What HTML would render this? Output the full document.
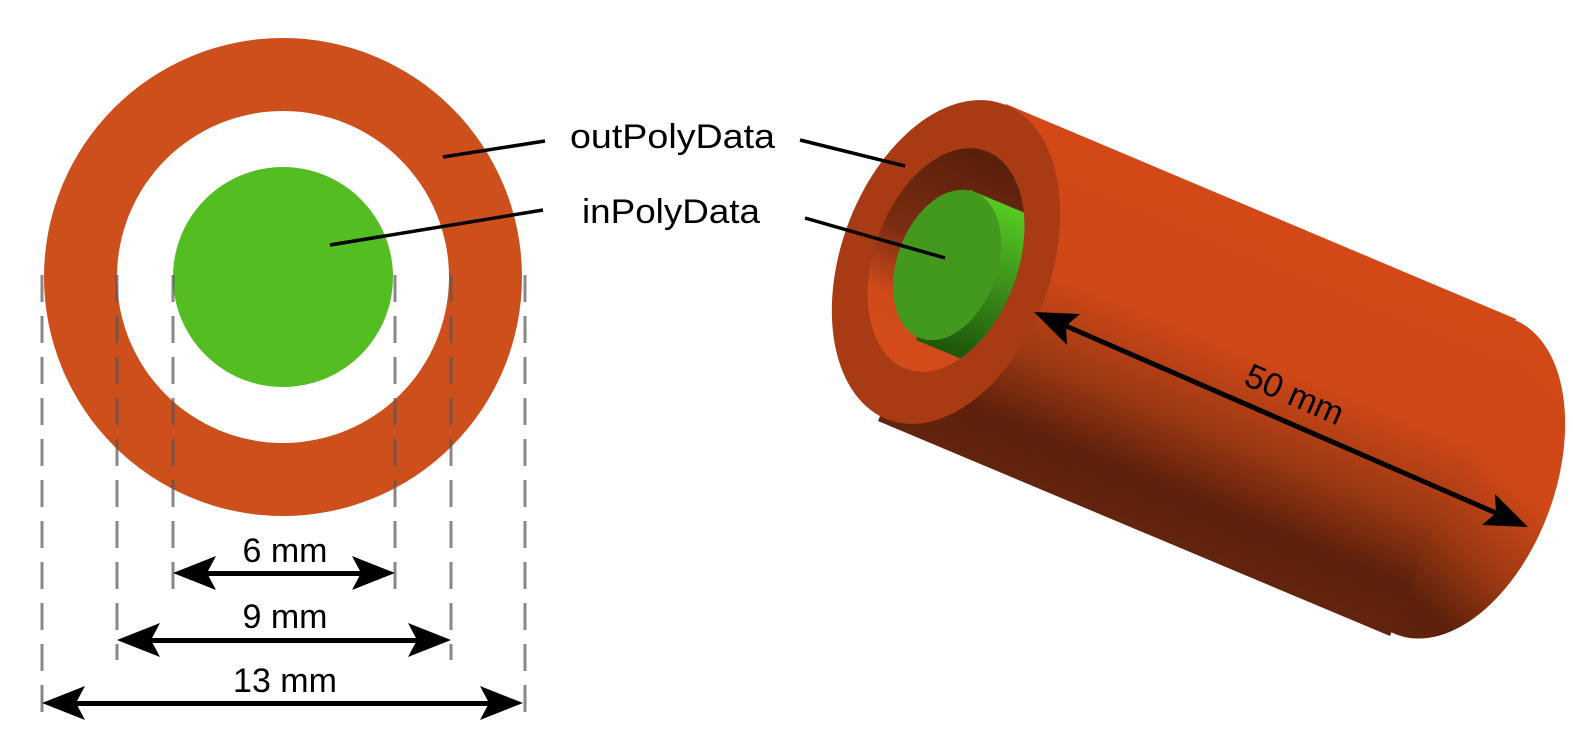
<!DOCTYPE html>
<html><head><meta charset="utf-8"><style>
html,body{margin:0;padding:0;background:#fff;}
svg{display:block;}
text{font-family:"Liberation Sans",sans-serif;fill:#000;}
</style></head><body>
<svg width="1573" height="750" viewBox="0 0 1573 750" xmlns="http://www.w3.org/2000/svg">
<defs>
<linearGradient id="body" gradientUnits="userSpaceOnUse" x1="1265" y1="212" x2="1135" y2="530">
<stop offset="0" stop-color="#d24817"/>
<stop offset="0.4" stop-color="#d04818"/>
<stop offset="0.65" stop-color="#9a3812"/>
<stop offset="0.85" stop-color="#5c200c"/>
<stop offset="1" stop-color="#62240e"/>
</linearGradient>
<linearGradient id="hole" gradientUnits="userSpaceOnUse" x1="990" y1="160" x2="900" y2="360">
<stop offset="0" stop-color="#5a200c"/>
<stop offset="0.45" stop-color="#7a2c10"/>
<stop offset="0.75" stop-color="#d04a1a"/>
<stop offset="1" stop-color="#d44c1a"/>
</linearGradient>
<linearGradient id="rod" gradientUnits="userSpaceOnUse" x1="1010" y1="210" x2="960" y2="350">
<stop offset="0" stop-color="#55c822"/>
<stop offset="0.5" stop-color="#3d8f1a"/>
<stop offset="1" stop-color="#1f5a0c"/>
</linearGradient>
<clipPath id="hc"><ellipse cx="946" cy="260" rx="72" ry="116" transform="rotate(20 946 260)"/></clipPath>
</defs>

<circle cx="283" cy="277" r="239" fill="#cd4f1c"/>
<circle cx="283" cy="277" r="166" fill="#fff"/>
<circle cx="283" cy="277" r="110" fill="#53bd22"/>
<g stroke="#555" stroke-opacity="0.7" stroke-width="3" stroke-dasharray="27 14">
<line x1="42" y1="275" x2="42" y2="722"/>
<line x1="117" y1="275" x2="117" y2="660"/>
<line x1="173" y1="275" x2="173" y2="591"/>
<line x1="395" y1="275" x2="395" y2="591"/>
<line x1="451" y1="275" x2="451" y2="660"/>
<line x1="525" y1="275" x2="525" y2="722"/>
</g>
<g fill="#000">
<rect x="200" y="571" width="168" height="5"/>
<polygon points="173,573 216,556 207,573 216,590"/>
<polygon points="395,573 352,556 361,573 352,590"/>
<rect x="145" y="638" width="280" height="5"/>
<polygon points="117,640 160,623 151,640 160,657"/>
<polygon points="451,640 408,623 417,640 408,657"/>
<rect x="70" y="701" width="427" height="5"/>
<polygon points="42,703 85,686 76,703 85,720"/>
<polygon points="523,703 480,686 489,703 480,720"/>
</g>
<text x="285" y="562" font-size="34" text-anchor="middle">6 mm</text>
<text x="285" y="628" font-size="34" text-anchor="middle">9 mm</text>
<text x="285" y="692" font-size="34" text-anchor="middle">13 mm</text>

<text x="570" y="148" font-size="34" textLength="205" lengthAdjust="spacingAndGlyphs">outPolyData</text>
<text x="582" y="223" font-size="34" textLength="178" lengthAdjust="spacingAndGlyphs">inPolyData</text>
<g stroke="#000" stroke-width="3.5">
<line x1="443" y1="157" x2="545" y2="141"/>
<line x1="330" y1="245" x2="543" y2="210"/>
</g>

<ellipse cx="1455" cy="477" rx="100" ry="168" transform="rotate(20 1455 477)" fill="url(#body)"/>
<polygon points="1006,104 1516,319 1390,636 878,421" fill="url(#body)"/>
<ellipse cx="946" cy="262" rx="105" ry="168" transform="rotate(20 946 262)" fill="#a83a14"/>
<g clip-path="url(#hc)">
<rect x="850" y="130" width="200" height="260" fill="url(#hole)"/>
<ellipse cx="1030" cy="295" rx="50" ry="78" transform="rotate(20 1030 295)" fill="url(#rod)"/>
<polygon points="970,190 1054,225 1000,375 916,340" fill="url(#rod)"/>
<ellipse cx="947" cy="265" rx="50" ry="78" transform="rotate(20 947 265)" fill="#43991e"/>
</g>
<g stroke="#000" stroke-width="3.5">
<line x1="800" y1="140" x2="905" y2="166"/>
<line x1="805" y1="218" x2="945" y2="258"/>
</g>
<line x1="1066" y1="326" x2="1496" y2="513" stroke="#000" stroke-width="5"/>
<polygon points="1034,312 1080,314 1066,326 1067,345" fill="#000"/>
<polygon points="1528,527 1482,525 1496,513 1495,494" fill="#000"/>
<text x="0" y="0" font-size="34" text-anchor="middle" transform="translate(1290,405) rotate(23.5)">50 mm</text>
</svg>
</body></html>
